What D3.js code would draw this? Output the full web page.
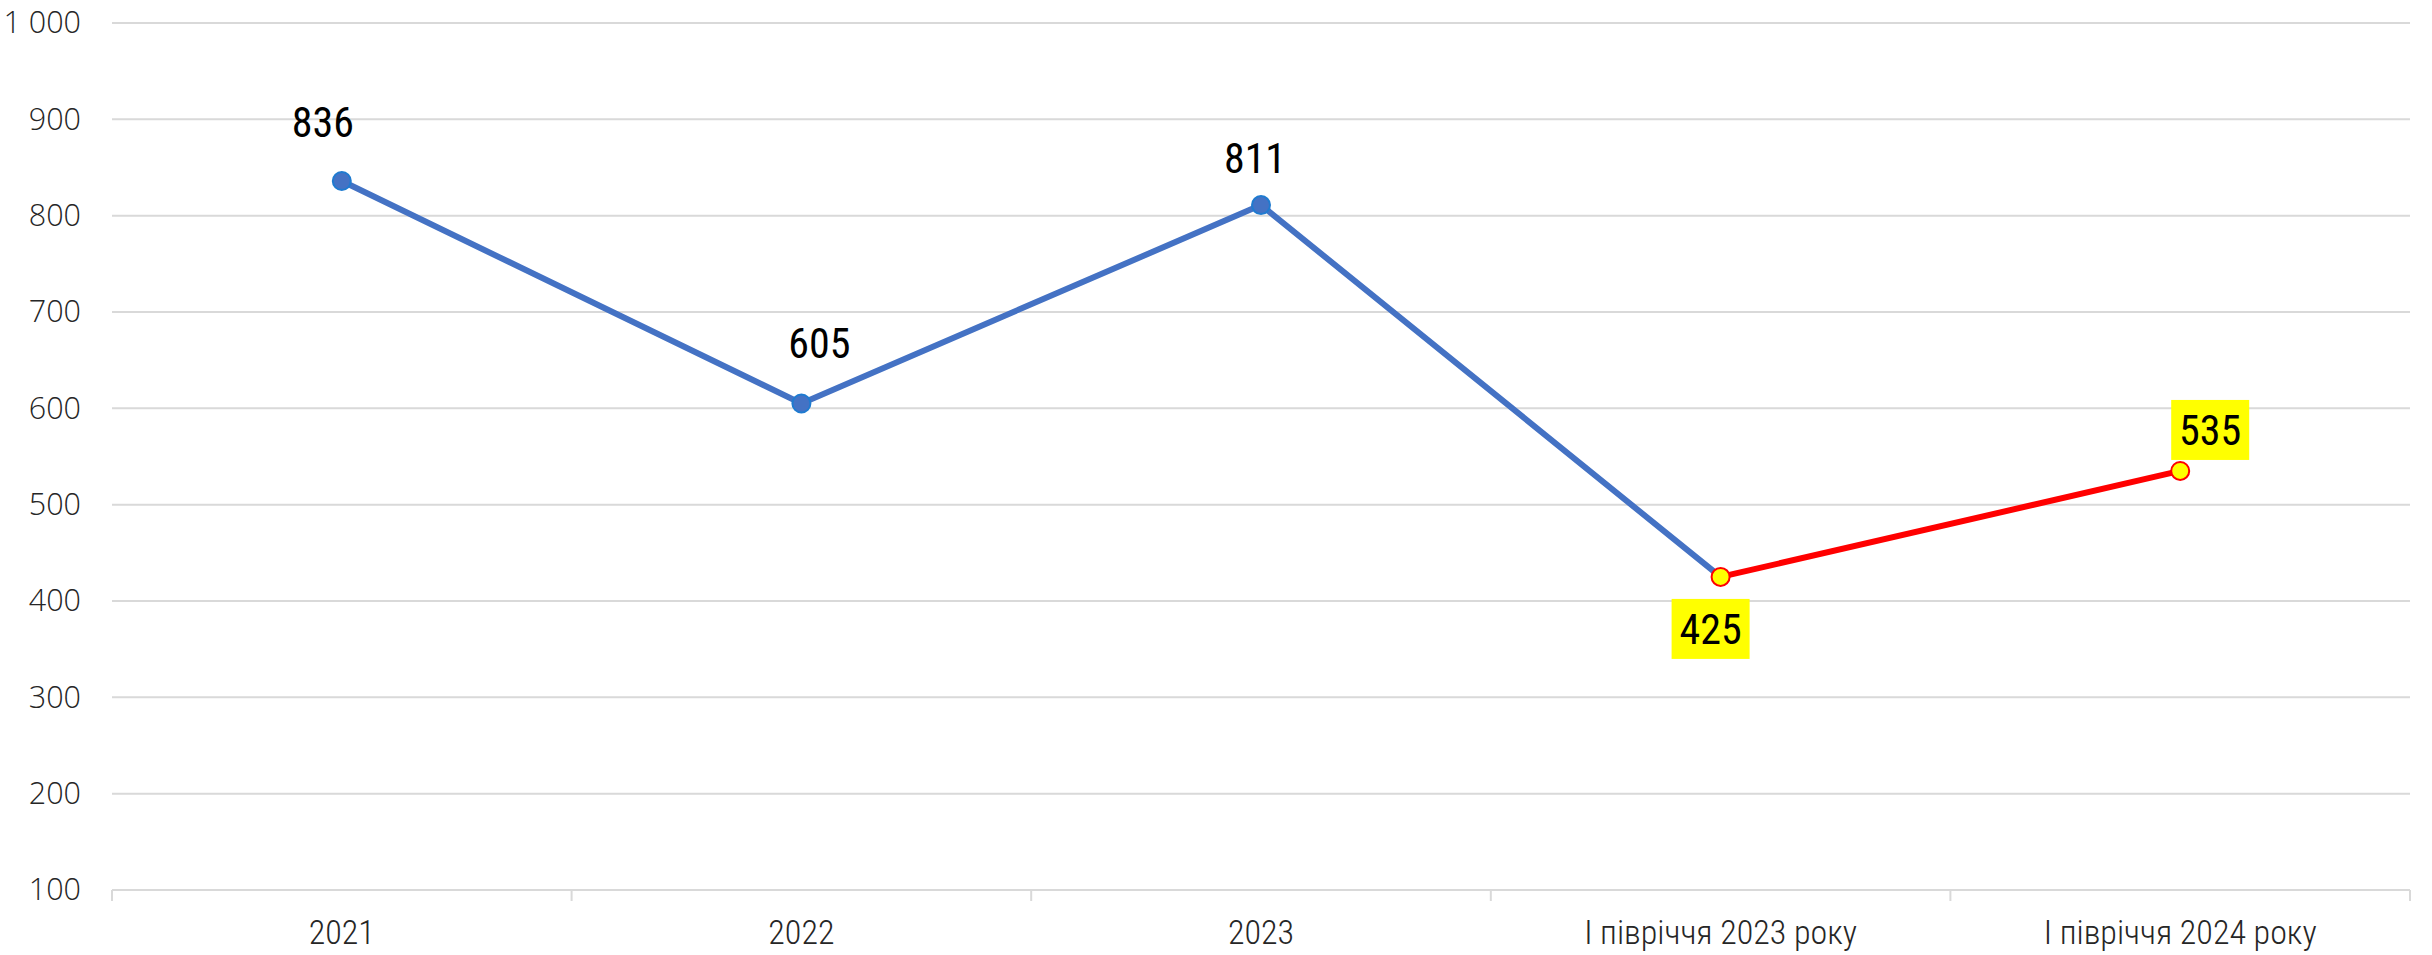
<!DOCTYPE html>
<html>
<head>
<meta charset="utf-8">
<script src="https://cdn.jsdelivr.net/npm/d3@7"></script>
<style>
  body { margin: 0; background: #fff; }
</style>
</head>
<body>
<div id="container"></div>
<script>
// categories and values
const categories = ["2021", "2022", "2023", "І півріччя 2023 року", "І півріччя 2024 року"]
const values = [836, 605, 811, 425, 535]
const yTicks = [100, 200, 300, 400, 500, 600, 700, 800, 900, 1000]
// where the red half-year comparison starts
const highlightFrom = 3

const W = 2432, H = 955
const margin = { left: 112, right: 22, top: 23, bottom: 65 }
const width = W - margin.left - margin.right
const height = H - margin.top - margin.bottom

// hand-placed data labels, as in the original (offset from the marker)
const labelNudge = [
  { dx: -19, dy: -44 },
  { dx: 18, dy: -46 },
  { dx: -6, dy: -32 },
  { dx: -10, dy: 67 },
  { dx: 30, dy: -26 }
]

const svg = d3.select("#container").append("svg")
  .attr("width", W)
  .attr("height", H)

const g = svg.append("g")
  .attr("transform", `translate(${margin.left}, ${margin.top})`)

// scales
const x = d3.scaleBand().domain(categories).range([0, width]).padding(0)
const y = d3.scaleLinear().domain([100, 1000]).range([height, 0])
const cx = d => x(d) + x.bandwidth() / 2

// gridlines
g.append("g")
  .selectAll("line")
  .data(yTicks.slice(1))
  .join("line")
    .attr("x1", 0)
    .attr("x2", width)
    .attr("y1", d => y(d))
    .attr("y2", d => y(d))
    .attr("stroke", "#d9d9d9")
    .attr("stroke-width", 2)

// y axis (labels only)
const yAxis = g.append("g")
  .call(d3.axisLeft(y).tickValues(yTicks).tickSize(0).tickPadding(31)
    .tickFormat(d => d3.format(",")(d).replace(",", " ")))
yAxis.select(".domain").remove()
yAxis.selectAll("text")
  .attr("font-family", "'Open Sans', sans-serif")
  .attr("font-size", 30.5)
  .attr("font-weight", 300)
  .attr("fill", "#262626")

// x axis with ticks between categories
const xAxis = g.append("g")
  .attr("transform", `translate(0, ${height})`)
xAxis.append("line")
  .attr("x1", 0).attr("x2", width)
  .attr("stroke", "#d9d9d9").attr("stroke-width", 2)
xAxis.selectAll(".sep")
  .data(d3.range(categories.length + 1))
  .join("line")
    .attr("class", "sep")
    .attr("x1", i => i * x.bandwidth())
    .attr("x2", i => i * x.bandwidth())
    .attr("y1", 0).attr("y2", 11)
    .attr("stroke", "#d9d9d9").attr("stroke-width", 2)
xAxis.selectAll(".xl")
  .data(categories)
  .join("text")
    .attr("class", "xl")
    .attr("x", d => cx(d))
    .attr("y", 54)
    .attr("text-anchor", "middle")
    .attr("font-family", "'Roboto Condensed', 'Liberation Sans Narrow', Roboto, sans-serif")
    .attr("font-weight", 300)
    .attr("font-size", 34)
    .attr("fill", "#262626")
    .text(d => d)

const pts = categories.map((c, i) => ({ c, v: values[i], i }))
const line = d3.line().x(d => cx(d.c)).y(d => y(d.v))

// blue part then red part
g.append("path")
  .datum(pts.slice(0, highlightFrom + 1))
  .attr("fill", "none")
  .attr("stroke", "#4472c4")
  .attr("stroke-width", 6)
  .attr("d", line)
g.append("path")
  .datum(pts.slice(highlightFrom))
  .attr("fill", "none")
  .attr("stroke", "#ff0000")
  .attr("stroke-width", 6)
  .attr("d", line)

g.selectAll(".dot")
  .data(pts)
  .join("circle")
    .attr("class", "dot")
    .attr("cx", d => cx(d.c))
    .attr("cy", d => y(d.v))
    .attr("r", 9)
    .attr("fill", d => d.i >= highlightFrom ? "#ffff00" : "#4472c4")
    .attr("stroke", d => d.i >= highlightFrom ? "#ff0000" : "#1f7bd0")
    .attr("stroke-width", 2)

// data labels
const labels = g.selectAll(".lbl")
  .data(pts)
  .join("g")
    .attr("class", "lbl")
    .attr("transform", d => `translate(${cx(d.c) + labelNudge[d.i].dx}, ${y(d.v) + labelNudge[d.i].dy})`)

labels.filter(d => d.i >= highlightFrom)
  .append("rect")
    .attr("x", -39)
    .attr("y", -45)
    .attr("width", 78)
    .attr("height", 60)
    .attr("fill", "#ffff00")

labels.append("text")
  .attr("text-anchor", "middle")
  .attr("font-family", "'Liberation Sans Narrow', 'Roboto Condensed', Roboto, sans-serif")
  .attr("font-size", 42)
  .attr("fill", "#000")
  .text(d => d.v)
</script>
</body>
</html>
